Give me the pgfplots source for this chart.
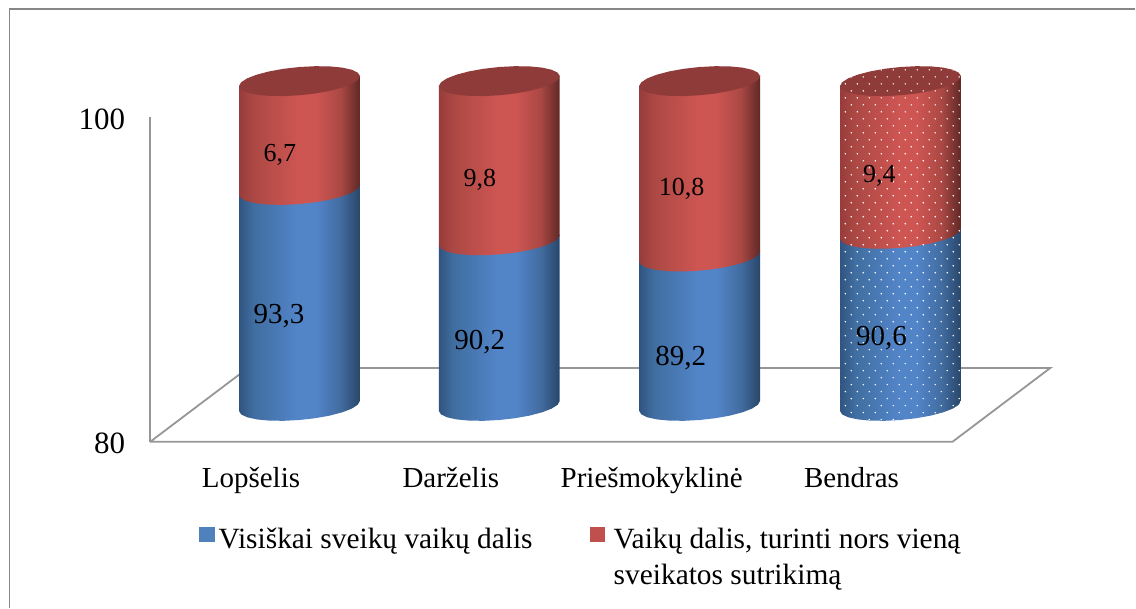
\documentclass[border=0pt]{standalone}
\usepackage{pgfplots}
\pgfplotsset{compat=1.18}
\usepackage{pgfplotstable}
\usepackage{fontspec}
\setmainfont{Liberation Serif}
\usetikzlibrary{patterns}

\definecolor{framegray}{RGB}{135,135,135}
\definecolor{axisgray}{RGB}{150,150,150}
\definecolor{legblue}{RGB}{79,129,189}
\definecolor{legred}{RGB}{192,80,77}
\definecolor{topred}{RGB}{143,59,57}
\definecolor{ba}{RGB}{48,84,128}
\definecolor{bb}{RGB}{64,110,160}
\definecolor{bc}{RGB}{82,132,200}
\definecolor{bd}{RGB}{66,108,160}
\definecolor{be}{RGB}{40,70,105}
\definecolor{ra}{RGB}{150,60,58}
\definecolor{rb}{RGB}{172,72,68}
\definecolor{rc}{RGB}{205,85,82}
\definecolor{rd}{RGB}{170,72,68}
\definecolor{re}{RGB}{95,40,38}

% the path's box is mapped on 25bp..75bp
\pgfdeclarehorizontalshading{cylblue}{100bp}{
  color(0bp)=(ba); color(25bp)=(ba); color(31bp)=(bb); color(49bp)=(bc);
  color(57bp)=(bc); color(67bp)=(bd); color(75bp)=(be); color(100bp)=(be)}
\pgfdeclarehorizontalshading{cylred}{100bp}{
  color(0bp)=(ra); color(25bp)=(ra); color(31bp)=(rb); color(49bp)=(rc);
  color(57bp)=(rc); color(67bp)=(rd); color(75bp)=(re); color(100bp)=(re)}

% white dots of the last column, 12 x 14 px tile
\pgfdeclarepatternformonly{whitedots}{\pgfqpoint{-1pt}{-1pt}}{\pgfqpoint{6pt}{7pt}}{\pgfqpoint{6pt}{7pt}}{
  \pgfpathcircle{\pgfqpoint{0pt}{0pt}}{0.42pt}
  \pgfpathcircle{\pgfqpoint{3pt}{3.5pt}}{0.42pt}
  \pgfusepath{fill}
}

% outline of one cylinder segment: front edge at the top, front edge at the bottom
\pgfplotstableread{
dx dp h
-60.5 5 1
-58.4 8.49 1
-52.4 11.4 1
-42.8 13.54 1
-30.25 14.75 1
-15.7 14.95 1
0 14.14 1
15.7 12.37 1
30.25 9.75 1
42.8 6.46 1
52.4 2.74 1
58.4 -1.17 1
60.5 -5 1
60.5 -5 0
58.4 -1.17 0
52.4 2.74 0
42.8 6.46 0
30.25 9.75 0
15.7 12.37 0
0 14.14 0
-15.7 14.95 0
-30.25 14.75 0
-42.8 13.54 0
-52.4 11.4 0
-58.4 8.49 0
-60.5 5 0
}\segtbl

% top face
\pgfplotstableread{
dx dp
-60.5 5
-58.4 8.49
-52.4 11.4
-42.8 13.54
-30.25 14.75
-15.7 14.95
0 14.14
15.7 12.37
30.25 9.75
42.8 6.46
52.4 2.74
58.4 -1.17
60.5 -5
58.4 -8.49
52.4 -11.4
42.8 -13.54
30.25 -14.75
15.7 -14.95
0 -14.14
-15.7 -12.37
-30.25 -9.75
-42.8 -6.46
-52.4 -2.74
-58.4 1.17
}\toptbl

% floor of the chart, x in px, y in axis units
\pgfplotstableread{
x y
150 80
953 80
1051 84.55
248 84.55
150 80
}\floortbl

% 0.06 lets each piece run under the next one, no seam
\newcommand{\seg}[4]{% centre, from, to, shading
  \addplot[draw=none, shading=#4, forget plot] table[
    x expr=#1+\thisrow{dx},
    y expr=#2+\thisrow{h}*(#3-#2+0.06)+2.215-\thisrow{dp}/16.25] {\segtbl};
}
\newcommand{\segdots}[3]{%
  \addplot[draw=none, pattern=whitedots, pattern color=white, forget plot] table[
    x expr=#1+\thisrow{dx},
    y expr=#2+\thisrow{h}*(#3-#2)+2.215-\thisrow{dp}/16.25] {\segtbl};
}
\newcommand{\topface}[1]{%
  \addplot[draw=none, fill=topred, forget plot] table[
    x expr=#1+\thisrow{dx},
    y expr=102.215-\thisrow{dp}/16.25] {\toptbl};
}

\begin{document}
\begin{tikzpicture}
\begin{axis}[
  scale only axis,
  width=568pt, height=304pt,
  xmin=0, xmax=1136,
  ymin=69.785, ymax=107.2,
  clip=false,
  axis line style={draw=none},
  major tick length=0pt,
  xtick={251,451,652,852},
  xticklabels={Lopšelis,Darželis,Priešmokyklinė,Bendras},
  ytick={80,100},
  /pgf/number format/assume math mode=true,
  x tick label style={font=\fontsize{14.5}{18}\selectfont, anchor=base, yshift=60pt},
  y tick label style={font=\fontsize{15.5}{18}\selectfont, anchor=east, xshift=66pt, yshift=-1pt},
  legend style={
    at={(axis cs:199,74.98)}, anchor=north west,
    draw=none, fill=none, inner sep=0pt,
    font=\fontsize{14.7}{18}\selectfont,
    /tikz/column 1/.style={column sep=0pt},
    /tikz/column 2/.style={column sep=26.5pt},
    /tikz/column 3/.style={column sep=2.5pt},
  },
  legend columns=2,
  legend image code/.code={\fill[#1] (0pt,-1pt) rectangle (7.2pt,6.2pt);},
]
% outer frame
\addplot[framegray, line width=0.75pt, forget plot] coordinates {(9.5,69.785)(9.5,106.65)(1136,106.65)};
% y axis and floor
\addplot[axisgray, line width=0.9pt, forget plot] coordinates {(150,100)(150,80)};
\addplot[axisgray, line width=0.9pt, forget plot] table {\floortbl};

% Lopšelis
\seg{299.5}{80}{93.3}{cylblue}
\seg{299.5}{93.3}{100}{cylred}
\topface{299.5}
% Darželis
\seg{499.5}{80}{90.2}{cylblue}
\seg{499.5}{90.2}{100}{cylred}
\topface{499.5}
% Priešmokyklinė
\seg{700}{80}{89.2}{cylblue}
\seg{700}{89.2}{100}{cylred}
\topface{700}
% Bendras
\seg{901}{80}{90.6}{cylblue}
\seg{901}{90.6}{100}{cylred}
\topface{901}
\segdots{901}{80}{90.6}
\segdots{901}{90.6}{100}
\addplot[draw=none, pattern=whitedots, pattern color=white, forget plot] table[
    x expr=901+\thisrow{dx},
    y expr=102.215-\thisrow{dp}/16.25] {\toptbl};

% value labels
\begin{scope}[every node/.style={font=\fontsize{14.5}{18}\selectfont}]
\node at (axis cs:279,87.76) {93,3};
\node at (axis cs:480,86.16) {90,2};
\node at (axis cs:681,85.17) {89,2};
\node at (axis cs:882,86.40) {90,6};
\end{scope}
\begin{scope}[every node/.style={font=\fontsize{13}{16}\selectfont}]
\node at (axis cs:280,97.66) {6,7};
\node at (axis cs:480,96.13) {9,8};
\node at (axis cs:682,95.57) {10,8};
\node at (axis cs:880,96.37) {9,4};
\end{scope}

\addlegendimage{legblue, fill=legblue}
\addlegendentry{Visiškai sveikų vaikų dalis}
\addlegendimage{legred, fill=legred}
\addlegendentry{\parbox[t]{190pt}{Vaikų dalis, turinti nors vieną\\sveikatos sutrikimą}}
\end{axis}
\end{tikzpicture}
\end{document}
